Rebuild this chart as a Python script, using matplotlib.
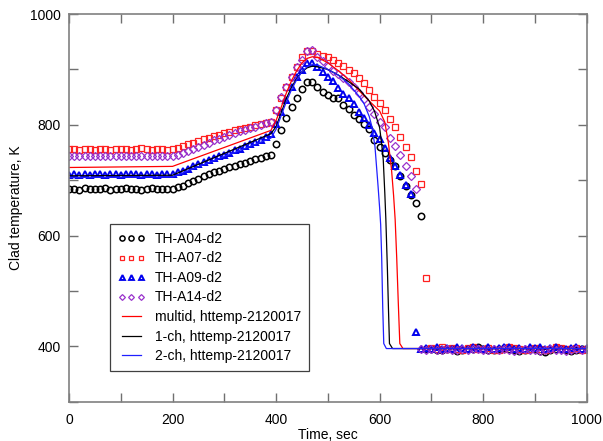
import numpy as np
import matplotlib
matplotlib.use("Agg")
import matplotlib.pyplot as plt

plt.rcParams['font.family'] = ['Liberation Sans', 'DejaVu Sans']

# experimental sample times (10 s grid)
t_exp = list(range(0, 1001, 10))

nan = float('nan')

a04 = ([684, 685, 683, 686, 684, 685, 684, 686, 683, 685, 684, 686, 684, 685, 683, 684, 686, 684, 685, 684, 685,
        687, 690, 695, 699, 703, 707, 711, 714, 717, 720, 723, 726, 729, 732, 735, 738, 740, 743, 746,
        766, 791, 812, 832, 848, 864, 878, 878, 868, 860, 854, 848, 848, 836, 828, 818, 810, 802, 792, 772,
        760, 750, 737, 726, 707, 690, 674, 659, 636]
       + [395, 396, 394, 393, 396, 395, 392, 394, 396, 395, 398, 396, 394, 393, 395, 397, 396, 393, 391, 394,
          396, 395, 392, 390, 394, 396, 395, 393, 391, 394, 396, 395])

a07 = ([756, 757, 755, 756, 756, 755, 757, 756, 755, 756, 757, 756, 755, 756, 758, 756, 755, 757, 756, 755, 757,
        758, 761, 765, 768, 771, 774, 777, 780, 782, 785, 787, 790, 792, 794, 796, 799, 801, 804, 806,
        827, 848, 868, 887, 905, 922, 933, 934, 928, 925, 922, 917, 912, 906, 899, 893, 884, 875, 863, 850,
        840, 826, 810, 796, 778, 760, 742, 716, 694, 524]
       + [397, 396, 398, 395, 397, 396, 394, 397, 398, 396, 395, 397, 394, 393, 396, 398, 397, 395, 394, 396,
          397, 395, 393, 396, 398, 397, 395, 396, 397, 394, 396])

a09 = ([710, 711, 710, 712, 710, 711, 712, 710, 711, 712, 710, 711, 712, 711, 710, 712, 711, 710, 712, 711, 712,
        714, 717, 721, 725, 729, 733, 736, 740, 743, 746, 750, 754, 757, 761, 765, 769, 773, 778, 783,
        802, 824, 845, 868, 886, 899, 911, 911, 904, 896, 887, 880, 866, 856, 848, 838, 824, 812, 800, 786,
        774, 758, 740, 726, 710, 692, 675, 426]
       + [396, 397, 395, 398, 396, 397, 395, 398, 397, 396, 399, 397, 396, 398, 395, 397, 399, 398, 396, 397,
          395, 398, 397, 399, 396, 397, 398, 396, 395, 397, 398, 396, 397])

a14 = ([743, 744, 743, 744, 743, 744, 743, 744, 743, 744, 743, 744, 743, 744, 743, 744, 743, 744, 743, 744, 744,
        746, 749, 752, 756, 760, 764, 768, 772, 775, 778, 782, 785, 788, 791, 794, 797, 800, 803, 806,
        827, 851, 868, 887, 905, 918, 934, 935, 922, 916, 906, 898, 892, 884, 878, 869, 858, 846, 832, 819,
        806, 796, 776, 761, 746, 726, 707, 684]
       + [395, 394, 395, 393, 394, 395, 393, 394, 395, 394, 396, 395, 394, 393, 395, 394, 395, 393, 392, 394,
          395, 394, 393, 392, 394, 395, 394, 393, 392, 394, 395, 394, 395])

# code results
t_multid = [0, 200, 390, 400, 410, 420, 430, 440, 450, 460, 470, 480, 500, 520, 540, 560, 580, 600, 610,
            617, 623, 627, 630, 633, 636, 639, 645, 1000]
T_multid = [723, 725, 790, 808, 832, 858, 880, 898, 912, 920, 923, 922, 912, 898, 882, 862, 843, 825, 805,
            767, 719, 672, 629, 560, 480, 405, 396, 396]

t_1ch = [0, 200, 390, 400, 410, 420, 430, 440, 450, 460, 470, 480, 500, 520, 540, 560, 580, 590, 600,
         604, 607, 610, 612, 615, 617, 619, 625, 1000]
T_1ch = [708, 709, 784, 797, 822, 848, 868, 884, 896, 903, 906, 905, 900, 890, 878, 865, 843, 825, 795,
         765, 737, 677, 630, 540, 470, 405, 396, 396]

t_2ch = [0, 200, 390, 400, 410, 420, 430, 440, 450, 460, 470, 480, 500, 520, 540, 560, 570, 580, 585,
         591, 597, 600, 602, 604, 606, 608, 613, 1000]
T_2ch = [705, 706, 776, 792, 817, 842, 864, 882, 896, 905, 909, 908, 900, 890, 874, 852, 838, 815, 797,
         761, 689, 650, 620, 560, 470, 405, 396, 396]

xticks = list(range(0, 1001, 100))
xlabels = ['0', '', '200', '', '400', '', '600', '', '800', '', '1000']
yticks = list(range(300, 1001, 100))
ylabels = ['', '400', '', '600', '', '800', '', '1000']

fig = plt.figure(figsize=(6.03, 4.41), dpi=100)
ax = fig.add_axes([0.1144, 0.0891, 0.973 - 0.1144, 0.968 - 0.0891])

def pad(vals):
    return list(vals) + [nan] * (len(t_exp) - len(vals))

ax.plot(t_exp, pad(a04), linestyle='none', marker='o', ms=4.6, mfc='none', mec='black', mew=1.1,
        label='TH-A04-d2')
ax.plot(t_exp, pad(a07), linestyle='none', marker='s', ms=4.3, mfc='none', mec='#ff2020', mew=0.9,
        label='TH-A07-d2')
ax.plot(t_exp, pad(a09), linestyle='none', marker='^', ms=4.4, mfc='none', mec='#0000ee', mew=1.4,
        label='TH-A09-d2')
ax.plot(t_exp, pad(a14), linestyle='none', marker='D', ms=3.7, mfc='none', mec='#9932cc', mew=0.9,
        label='TH-A14-d2')
ax.plot(t_multid, T_multid, color='red', lw=0.9, label='multid, httemp-2120017')
ax.plot(t_1ch, T_1ch, color='black', lw=0.9, label='1-ch, httemp-2120017')
ax.plot(t_2ch, T_2ch, color='#2020ff', lw=0.9, label='2-ch, httemp-2120017')

ax.set_xlim(0, 1000)
ax.set_ylim(300, 1000)
ax.set_xticks(xticks)
ax.set_xticklabels(xlabels)
ax.set_yticks(yticks)
ax.set_yticklabels(ylabels)
ax.tick_params(axis='both', direction='in', length=6.5, width=1, color='#707070', top=True, right=True,
               labelsize=10)
ax.tick_params(axis='x', pad=8)
ax.tick_params(axis='y', pad=6)
for s in ax.spines.values():
    s.set_color('#808080')
    s.set_linewidth(1.2)

ax.set_xlabel('Time, sec', fontsize=10, labelpad=1)
ax.set_ylabel('Clad temperature, K', fontsize=10, labelpad=5)

leg = ax.legend(loc='upper left', bbox_to_anchor=(0.079, 0.458), fontsize=10, numpoints=3,
                markerscale=0.8, handlelength=2.0, handletextpad=0.7, labelspacing=0.40,
                borderpad=0.55, borderaxespad=0.0,
                fancybox=False, framealpha=1, edgecolor='#404040')
leg.get_frame().set_linewidth(0.9)

fig.savefig('out.png', dpi=100)
